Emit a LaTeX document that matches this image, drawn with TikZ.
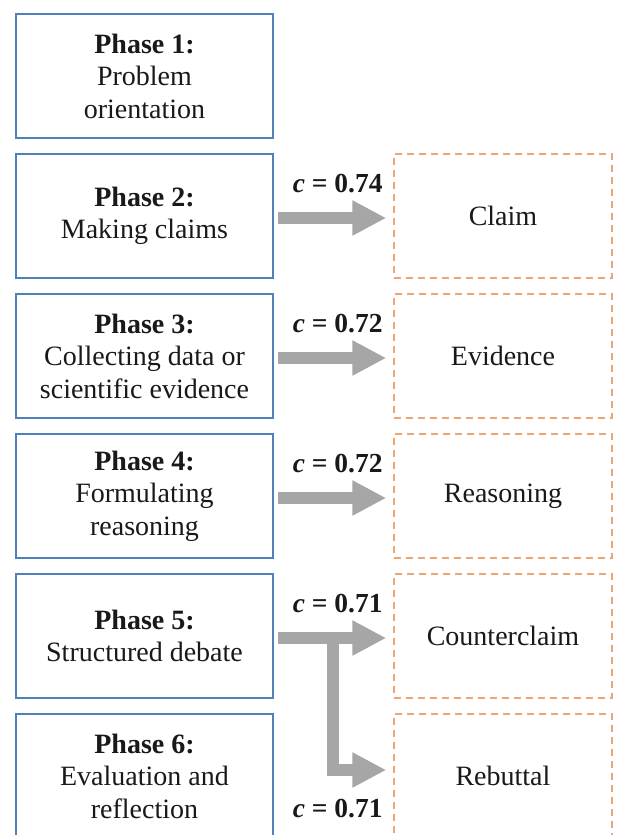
\documentclass[tikz,border=0pt]{standalone}
\usepackage{fontspec}
\setmainfont{Liberation Serif}
\usetikzlibrary{arrows.meta,calc}
\definecolor{phaseblue}{RGB}{79,129,189}
\definecolor{compor}{RGB}{236,165,115}
\definecolor{arrowgray}{RGB}{166,166,166}
\definecolor{txt}{RGB}{25,25,25}
\tikzset{
  phasebox/.style={draw=phaseblue, line width=1.6pt, minimum width=257pt, minimum height=124pt, inner sep=0pt, align=center, text=txt, font=\fontsize{28}{32.5}\selectfont},
  compbox/.style={draw=compor, line width=1.5pt, dash pattern=on 7pt off 5pt, minimum width=218pt, minimum height=124pt, inner sep=0pt, align=center, text=txt, font=\fontsize{28}{32.5}\selectfont},
  fat/.style={draw=arrowgray, line width=11.5pt, line join=miter, -{Triangle[length=34pt,width=33pt]}},
  clab/.style={inner sep=0pt, text=txt, font=\fontsize{27.5}{32}\selectfont\bfseries}
}
\begin{document}
\begin{tikzpicture}[x=1pt,y=-1pt]
\useasboundingbox (0,0) rectangle (616,835);
\fill[white] (0,0) rectangle (616,835);
\node[phasebox] (p1) at (144.5,76)  {\textbf{Phase 1:}\\Problem\\orientation};
\node[phasebox] (p2) at (144.5,216) {\textbf{Phase 2:}\\Making claims};
\node[phasebox] (p3) at (144.5,356) {\textbf{Phase 3:}\\Collecting data or\\scientific evidence};
\node[phasebox] (p4) at (144.5,496) {\textbf{Phase 4:}\\Formulating\\reasoning};
\node[phasebox] (p5) at (144.5,636) {\textbf{Phase 5:}\\Structured debate};
\node[phasebox] (p6) at (144.5,776) {\textbf{Phase 6:}\\Evaluation and\\reflection};
\node[compbox] (claim) at (503,216) {Claim};
\node[compbox] (evid) at (503,356) {Evidence};
\node[compbox] (reas) at (503,496) {Reasoning};
\node[compbox] (counter) at (503,636) {Counterclaim};
\node[compbox] (rebut) at (503,776) {Rebuttal};
% arrows
\draw[fat] ([xshift=4pt,yshift=-2pt]p2.east) -- ([xshift=-7pt,yshift=-2pt]claim.west);
\draw[fat] ([xshift=4pt,yshift=-2pt]p3.east) -- ([xshift=-7pt,yshift=-2pt]evid.west);
\draw[fat] ([xshift=4pt,yshift=-2pt]p4.east) -- ([xshift=-7pt,yshift=-2pt]reas.west);
\coordinate (s5) at ([xshift=4pt,yshift=-2pt]p5.east);
\coordinate (t5) at ([xshift=-7pt,yshift=-2pt]counter.west);
\coordinate (br) at ($(s5)!0.51!(t5)$);
\draw[fat] (s5) -- (t5);
\draw[fat] (br) |- ([xshift=-7pt,yshift=6pt]rebut.west);
% labels
\node[clab, anchor=base east] (l2) at ([xshift=109pt,yshift=24pt]p2.east) {\textit{c} = 0.74};
\node[clab, anchor=base east] (l3) at ([xshift=109pt,yshift=24pt]p3.east) {\textit{c} = 0.72};
\node[clab, anchor=base east] (l4) at ([xshift=109pt,yshift=24pt]p4.east) {\textit{c} = 0.72};
\node[clab, anchor=base east] (l5) at ([xshift=109pt,yshift=24pt]p5.east) {\textit{c} = 0.71};
\node[clab, anchor=base east] (l6) at ([xshift=109pt,yshift=-41pt]p6.east) {\textit{c} = 0.71};
\end{tikzpicture}
\end{document}
